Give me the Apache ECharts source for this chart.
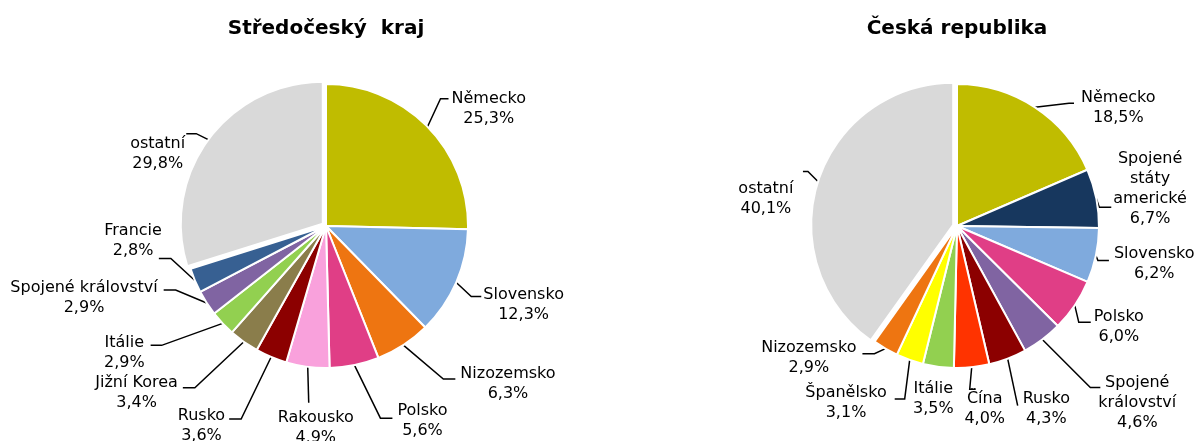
<!DOCTYPE html>
<html>
<head>
<meta charset="utf-8">
<script src="https://cdn.jsdelivr.net/npm/echarts@6/dist/echarts.min.js"></script>
<style>
html,body{margin:0;padding:0;background:#fff;}
#chart{width:1199px;height:441px;}
</style>
</head>
<body>
<div id="chart"></div>
<script>
// ---------- DATA ----------
// Středočeský kraj
const leftTitle = 'Středočeský  kraj';
const leftCategories = ['Německo','Slovensko','Nizozemsko','Polsko','Rakousko','Rusko','Jižní Korea','Itálie','Spojené království','Francie','ostatní'];
const leftValues = [25.3,12.3,6.3,5.6,4.9,3.6,3.4,2.9,2.9,2.8,29.8];

// Česká republika
const rightTitle = 'Česká republika';
const rightCategories = ['Německo','Spojené\nstáty\namerické','Slovensko','Polsko','Spojené\nkrálovství','Rusko','Čína','Itálie','Španělsko','Nizozemsko','ostatní'];
const rightValues = [18.5,6.7,6.2,6.0,4.6,4.3,4.0,3.5,3.1,2.9,40.1];

// ---------- STYLES ----------
const leftColors = ['#C0BC00','#7FAADD','#EE7511','#E03E86','#F9A1DC','#8C0000','#8A7D4B','#92D050','#8064A2','#376092','#D9D9D9'];
const rightColors = ['#C0BC00','#17375E','#7FAADD','#E03E86','#8064A2','#8C0000','#FF3300','#92D050','#FFFF00','#EE7511','#D9D9D9'];

// Label leader layout, relative to the slice edge point the library gives:
// [line end dx, line end dy, elbow dx from line end, text dx, first-line dy, text align]
const leftLabelLayout = [
  [21, -28, -8, 3, 0, 'left'],
  [25, 14, -10, 2, -2, 'left'],
  [52, 34, -12, 5, -5, 'left'],
  [38, 53, -12, 5, -7, 'left'],
  [1, 36, 0, 7, 15, 'center'],
  [-42, 62, 12, -4, -3, 'right'],
  [-61, 46, 12, -5, -5, 'right'],
  [-72, 22, 11, -6, -3, 'right'],
  [-43, -13, 12, -6, -2, 'right'],
  [-36, -22, 12, 3, -28, 'right'],
  [-22, -6, 10, -5, -25, 'right']
];
const rightLabelLayout = [
  [39, -4, -5, 7, -6, 'left'],
  [15, 9, -12, 2, -48, 'left'],
  [13, 5, -11, 5, -7, 'left'],
  [16, 17, -12, 3, -5, 'left'],
  [58, 48, -10, -2, -5, 'left'],
  [10, 47, 0, 5, -7, 'left'],
  [4, 22, -6, 9, 10, 'center'],
  [0, 0, 0, -5, 22, 'center'],
  [-15, 39, 10, -8, -6, 'right'],
  [-23, 5, 12, -6, -6, 'right'],
  [-15, -10, 5, -1, -26, 'right']
];
const noLineRight = [false,false,false,false,false,false,false,true,false,false,false];

const FONT = '"DejaVu Sans", "Liberation Sans", Arial, sans-serif';
const FONT_SIZE = 16;
const LINE_H = 20;
const fmt = v => v.toFixed(1).replace('.', ',') + '%';

const CENTERS = [[326, 226], [957, 226]];
const RADIUS = 142;

function buildData(cats, vals, cols, noLine) {
  return cats.map((c, i) => {
    const d = { name: c, value: vals[i], itemStyle: { color: cols[i] } };
    if (c === 'ostatní') d.selected = true;
    if (noLine && noLine[i]) d.labelLine = { show: false };
    return d;
  });
}

// slice edge point at the middle angle (fallback when no label line exists)
function edgePoint(vals, idx, center, r) {
  const total = vals.reduce((a, b) => a + b, 0);
  let cum = 0;
  for (let i = 0; i < idx; i++) cum += vals[i];
  const ang = (cum + vals[idx] / 2) / total * Math.PI * 2;
  return [center[0] + r * Math.sin(ang), center[1] - r * Math.cos(ang)];
}

function makeLayout(layouts, vals, center) {
  return function (p) {
    const L = layouts[p.dataIndex];
    const p1 = (p.labelLinePoints && p.labelLinePoints[0])
      ? p.labelLinePoints[0] : edgePoint(vals, p.dataIndex, center, RADIUS);
    const E = [p1[0] + L[0], p1[1] + L[1]];
    const C = [E[0] + L[2], E[1]];
    return {
      x: E[0] + L[3],
      y: E[1] + L[4] - LINE_H / 2,
      align: L[5],
      verticalAlign: 'top',
      labelLinePoints: [[p1[0], p1[1]], C, E]
    };
  };
}

function pieSeries(cats, vals, cols, center, layouts, noLine) {
  return {
    type: 'pie',
    center: center,
    radius: RADIUS,
    startAngle: 90,
    clockwise: true,
    animation: false,
    avoidLabelOverlap: false,
    selectedMode: 'multiple',
    selectedOffset: 4,
    itemStyle: { borderColor: '#fff', borderWidth: 2 },
    label: {
      show: true,
      position: 'outside',
      formatter: p => p.name.split('\n').concat([fmt(p.value)]).map(s => '{c|' + s + '}').join('\n'),
      color: '#000',
      fontFamily: FONT,
      fontSize: FONT_SIZE,
      lineHeight: LINE_H,
      rich: {
        c: { align: 'center', color: '#000', fontFamily: FONT, fontSize: FONT_SIZE, lineHeight: LINE_H }
      }
    },
    labelLine: {
      show: true,
      length: 10,
      length2: 10,
      smooth: false,
      lineStyle: { color: '#000', width: 1.5 }
    },
    labelLayout: makeLayout(layouts, vals, center),
    emphasis: { disabled: true },
    data: buildData(cats, vals, cols, noLine)
  };
}

const chart = echarts.init(document.getElementById('chart'), null, { renderer: 'canvas' });
chart.setOption({
  backgroundColor: '#fff',
  title: [
    { text: leftTitle, left: 326, top: 19, textAlign: 'center', padding: 0,
      textStyle: { fontFamily: FONT, fontSize: 20, fontWeight: 'bold', color: '#000' } },
    { text: rightTitle, left: 957, top: 19, textAlign: 'center', padding: 0,
      textStyle: { fontFamily: FONT, fontSize: 20, fontWeight: 'bold', color: '#000' } }
  ],
  series: [
    pieSeries(leftCategories, leftValues, leftColors, CENTERS[0], leftLabelLayout, null),
    pieSeries(rightCategories, rightValues, rightColors, CENTERS[1], rightLabelLayout, noLineRight)
  ]
});
</script>
</body>
</html>
